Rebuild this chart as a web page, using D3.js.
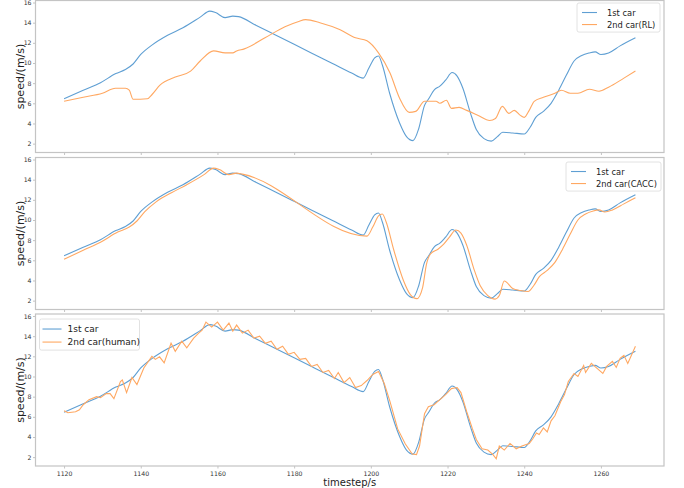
<!DOCTYPE html>
<html>
<head>
<meta charset="utf-8">
<script src="https://cdn.jsdelivr.net/npm/d3@7"></script>
<style>
  body { margin: 0; background: #fff; }
  svg { display: block; font-family: "DejaVu Sans", sans-serif; }
</style>
</head>
<body>
<svg id="chart" width="684" height="488"></svg>
<script>
const width = 684;
const height = 488;

// 1st car (same in all three panels)
const leadT = [1120, 1125, 1129.5, 1133.5, 1136, 1138, 1140, 1143, 1147, 1151, 1155.5, 1158, 1159.5, 1162, 1164, 1165.5,
  1170, 1175, 1180, 1185, 1190, 1195, 1198, 1199.5, 1201, 1202, 1203, 1204.9, 1207.5, 1209.3, 1211, 1212.5, 1214, 1215,
  1216.6, 1218, 1219.5, 1221.2, 1222.5, 1224, 1226, 1227.5, 1229.5, 1231.4, 1233, 1234.4, 1237, 1240, 1241.5, 1243,
  1245, 1247, 1249, 1251, 1253, 1255, 1257, 1258.5, 1260, 1262, 1265, 1269];
const leadV = [6.45, 7.3, 8.05, 8.95, 9.35, 9.9, 10.85, 11.8, 12.75, 13.5, 14.55, 15.15, 15.0, 14.5, 14.65, 14.6,
  13.75, 12.8, 11.85, 10.9, 9.95, 9.0, 8.5, 9.5, 10.5, 10.7, 9.8, 7.0, 4.05, 2.7, 2.3, 3.5, 5.8, 6.4,
  7.35, 7.7, 8.3, 9.05, 8.7, 7.5, 5.0, 3.4, 2.5, 2.25, 2.7, 3.13, 3.06, 2.96, 3.6, 4.6,
  5.2, 6.0, 7.3, 8.8, 10.2, 10.75, 11.0, 11.1, 10.85, 11.0, 11.7, 12.5];

// 2nd car, RL controller
const rlT = [1120, 1125, 1130, 1133.4, 1136, 1137, 1138, 1141.7, 1143, 1145, 1149, 1153, 1155.5, 1159, 1162, 1164, 1165,
  1167, 1172.4, 1177.6, 1181, 1183, 1186.7, 1192, 1196, 1199, 1202, 1205, 1207.5, 1210, 1211.7, 1214, 1217, 1218,
  1219.7, 1221, 1223, 1225, 1228, 1231, 1232.5, 1234.3, 1236, 1237.4, 1239, 1240, 1241.3, 1242.6, 1245, 1248,
  1249.7, 1252, 1254, 1257, 1259.5, 1262, 1266, 1269];
const rlV = [6.2, 6.6, 7.0, 7.5, 7.5, 7.3, 6.4, 6.45, 6.9, 7.8, 8.6, 9.2, 10.2, 11.2, 11.0, 11.0, 11.2,
  11.4, 12.5, 13.6, 14.1, 14.3, 14.0, 13.3, 12.5, 12.2, 11.0, 9.0, 6.5, 5.1, 5.2, 6.2, 6.2, 6.0,
  6.3, 5.5, 5.6, 5.3, 4.8, 4.3, 4.5, 5.7, 5.0, 5.3, 4.8, 4.6, 5.3, 6.2, 6.6, 7.0,
  7.3, 7.0, 7.0, 7.4, 7.2, 7.6, 8.5, 9.2];

// 2nd car, CACC controller
const caccT = [1120, 1125, 1129.5, 1134, 1137, 1139, 1141, 1144, 1148, 1152, 1156.5, 1159, 1160.5, 1163, 1165, 1166.5,
  1199, 1200.5, 1202, 1203, 1204, 1206, 1208.5, 1210.3, 1212, 1213.5, 1214.5, 1215.5, 1217.5, 1219, 1220.5, 1222.2,
  1223.5, 1225, 1227, 1228.5, 1230.5, 1232.4, 1233.5, 1234.8, 1237, 1239, 1241, 1242.5, 1244, 1246, 1248, 1250,
  1252, 1254, 1256, 1258, 1259.5, 1261, 1263, 1266, 1269];
const caccV = [6.1, 7.0, 7.8, 8.8, 9.3, 9.9, 10.8, 11.8, 12.7, 13.5, 14.5, 15.15, 15.0, 14.5, 14.65, 14.55,
  8.4, 9.3, 10.4, 10.6, 9.8, 7.0, 4.0, 2.6, 2.2, 3.3, 5.6, 6.6, 7.1, 7.6, 8.3, 9.0,
  8.7, 7.5, 5.0, 3.5, 2.5, 2.15, 2.5, 3.95, 3.2, 3.0, 2.9, 3.5, 4.4, 5.0, 5.8, 7.1,
  8.6, 10.0, 10.6, 10.9, 11.0, 10.8, 11.0, 11.6, 12.2];

// 2nd car, human driver
const humanT = [1120, 1121, 1123, 1124, 1125, 1126.5, 1128.5, 1129.5, 1131, 1132, 1133, 1134.7, 1135.2, 1136.3, 1137.7,
  1139, 1140.8, 1142.9, 1143.8, 1144.9, 1146.1, 1147.9, 1149, 1150.7, 1152, 1153.8, 1155.1, 1156, 1157, 1158.5,
  1160, 1161.5, 1163, 1164, 1165, 1166.5, 1168, 1169.5, 1171, 1172.5, 1174, 1175.5, 1177, 1178.5, 1180, 1181.5,
  1183, 1184.5, 1186, 1187.5, 1189, 1190.5, 1191.5, 1193, 1194.5, 1196, 1197.5, 1199, 1200.5, 1202, 1203.5, 1205,
  1207, 1209, 1210.8, 1211.9, 1212.7, 1214, 1215, 1216.5, 1218, 1219.5, 1221, 1222.5, 1223.5, 1225, 1226.5, 1227.5,
  1229, 1230.5, 1231.8, 1232.7, 1233.5, 1234.8, 1236.3, 1237.9, 1239.4, 1241.3, 1242.2, 1243.2, 1243.9, 1245, 1246,
  1247, 1248, 1249.5, 1250.5, 1251.5, 1253, 1254, 1255.5, 1256, 1257.5, 1259, 1260.5, 1261.5, 1263, 1264, 1265,
  1266, 1267, 1269];
const humanV = [6.6, 6.4, 6.5, 6.7, 7.2, 7.7, 8.0, 7.9, 8.3, 8.3, 7.8, 9.5, 9.65, 8.4, 9.9,
  9.2, 10.85, 12.0, 11.7, 11.95, 11.35, 13.3, 12.5, 13.5, 12.85, 13.8, 14.3, 14.6, 15.4, 14.9,
  15.4, 14.6, 15.3, 14.5, 15.1, 14.3, 14.6, 13.8, 14.0, 13.3, 13.5, 12.7, 13.0, 12.2, 12.4, 11.7,
  11.8, 11.0, 11.2, 10.4, 10.6, 9.8, 10.4, 9.4, 9.9, 8.9, 9.1, 9.6, 10.2, 10.5, 9.3, 7.5,
  4.8, 3.3, 2.3, 2.25, 3.1, 6.3, 7.0, 7.2, 7.7, 8.2, 8.8, 8.9, 8.4, 6.5, 4.8, 3.75,
  2.83, 2.7, 2.27, 1.84, 3.1, 2.7, 3.36, 2.83, 3.1, 3.36, 3.8, 4.4, 4.25, 4.9, 4.5,
  5.6, 6.1, 7.5, 8.2, 9.5, 10.3, 10.0, 11.1, 10.4, 11.3, 10.8, 10.3, 11.0, 11.5, 10.9, 11.8,
  12.1, 11.3, 13.0];

const xTicks = [1120, 1140, 1160, 1180, 1200, 1220, 1240, 1260];
const yTicks = [2, 4, 6, 8, 10, 12, 14, 16];

const blue = "#5f9fd3";
const orange = "#ffa862";
const spine = "#c4c4c4";

const left = 35.5, right = 664;
const panelH = 152;

const panels = [
  { top: 0.5, follower: [rlT, rlV], names: ["1st car", "2nd car(RL)"],
    legend: { x: 577, y: 3, w: 83, fs: 8.3, h0: 5, h1: 20, tx: 30 } },
  { top: 157.5, follower: [caccT, caccV], names: ["1st car", "2nd car(CACC)"],
    legend: { x: 566, y: 162, w: 95, fs: 8.3, h0: 5, h1: 20, tx: 30 } },
  { top: 314, follower: [humanT, humanV], names: ["1st car", "2nd car(human)"],
    legend: { x: 39.5, y: 319, w: 100, fs: 9, h0: 3, h1: 22, tx: 28 }, linear: true }
];

const svg = d3.select("#chart");

const x = d3.scaleLinear().domain([1112.55, 1276.45]).range([left, right]);

function drawPanel(p, last) {
  const y = d3.scaleLinear().domain([1.12, 16.2]).range([p.top + panelH, p.top]);
  const g = svg.append("g");

  // y ticks
  const yAxis = g.append("g").attr("transform", `translate(${left},0)`)
    .call(d3.axisLeft(y).tickValues(yTicks).tickSize(2.5).tickPadding(1.5));
  yAxis.select(".domain").remove();
  yAxis.selectAll("line").attr("stroke", spine);
  yAxis.selectAll("text").attr("font-size", 6.2).attr("fill", "#333").attr("font-family", "DejaVu Sans");

  // x ticks (labels only on the last panel)
  const xAxis = g.append("g").attr("transform", `translate(0,${p.top + panelH})`)
    .call(d3.axisBottom(x).tickValues(xTicks).tickSize(2.5).tickPadding(3).tickFormat(last ? d3.format("d") : ""));
  xAxis.select(".domain").remove();
  xAxis.selectAll("line").attr("stroke", spine);
  xAxis.selectAll("text").attr("font-size", 6.2).attr("fill", "#333").attr("font-family", "DejaVu Sans");

  // frame
  g.append("rect")
    .attr("x", left).attr("y", p.top)
    .attr("width", right - left).attr("height", panelH)
    .attr("fill", "none").attr("stroke", spine).attr("stroke-width", 1.2);

  const smooth = d3.line().x(d => x(d[0])).y(d => y(d[1])).curve(d3.curveMonotoneX);
  const straight = d3.line().x(d => x(d[0])).y(d => y(d[1]));

  const lead = d3.zip(leadT, leadV);
  const foll = d3.zip(p.follower[0], p.follower[1]);

  g.append("path").datum(lead).attr("d", smooth)
    .attr("fill", "none").attr("stroke", blue).attr("stroke-width", 1.1);
  g.append("path").datum(foll).attr("d", p.linear ? straight : smooth)
    .attr("fill", "none").attr("stroke", orange).attr("stroke-width", 1.1);

  // y label
  g.append("text")
    .attr("transform", `translate(20,${p.top + panelH / 2}) rotate(-90)`)
    .attr("text-anchor", "middle").attr("dominant-baseline", "central")
    .attr("font-size", 11).attr("fill", "#222")
    .text("speed/(m/s)");

  // legend
  const L = p.legend;
  const rowH = L.fs * 1.45;
  const lg = g.append("g").attr("transform", `translate(${L.x},${L.y})`);
  lg.append("rect").attr("width", L.w).attr("height", rowH * 2 + 5)
    .attr("rx", 2).attr("fill", "#fff").attr("fill-opacity", 0.85)
    .attr("stroke", "#dadada").attr("stroke-width", 0.8);
  [blue, orange].forEach((c, i) => {
    const cy = 3 + rowH * (i + 0.5) + 0.5;
    lg.append("line").attr("x1", L.h0).attr("x2", L.h1)
      .attr("y1", cy).attr("y2", cy).attr("stroke", c).attr("stroke-width", 1.1);
    lg.append("text").attr("x", L.tx).attr("y", cy)
      .attr("dominant-baseline", "central").attr("font-size", L.fs).attr("fill", "#222")
      .text(p.names[i]);
  });
}

panels.forEach((p, i) => drawPanel(p, i === panels.length - 1));

// x label
svg.append("text")
  .attr("x", (left + right) / 2).attr("y", 482)
  .attr("text-anchor", "middle").attr("dominant-baseline", "central")
  .attr("font-size", 10).attr("fill", "#222")
  .text("timestep/s");
</script>
</body>
</html>
